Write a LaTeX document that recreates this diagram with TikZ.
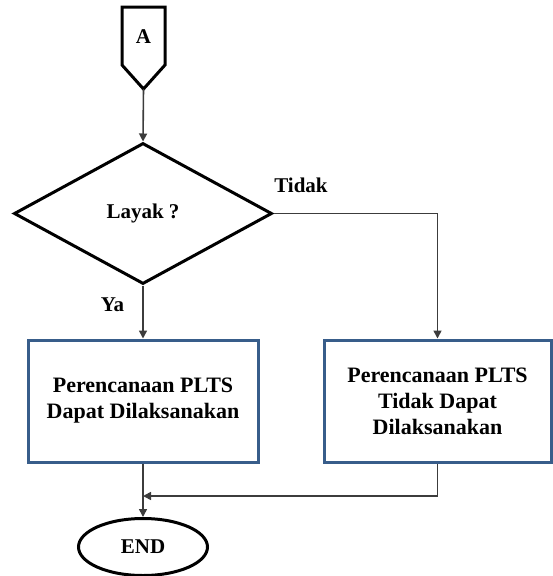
\documentclass[tikz,border=0pt]{standalone}
\usepackage{fontspec}
\setmainfont{Liberation Serif}
\usetikzlibrary{shapes.geometric,arrows.meta}
\definecolor{boxblue}{RGB}{56,93,138}
\definecolor{flowgray}{RGB}{60,60,60}
\tikzset{
    flowline/.style={flowgray, line width=1.6pt, -{Triangle[width=8pt,length=8pt]}},
    decision/.style={diamond, draw, line width=3pt, inner sep=0pt,
        minimum width=258pt, minimum height=141pt},
    procbox/.style={rectangle, draw=boxblue, line width=3pt, align=center,
        font=\fontsize{22}{26}\selectfont\bfseries,
        minimum width=230pt, minimum height=122pt},
    terminal/.style={ellipse, draw, line width=3pt, inner sep=0pt,
        minimum width=129pt, minimum height=57pt}
}
\begin{document}
\begin{tikzpicture}[x=1pt, y=-1pt, font=\fontsize{21}{27}\selectfont\bfseries]
    \useasboundingbox (0,0) rectangle (553,576);
    % Off-page connector
    \coordinate (atl) at (122,7);
    \coordinate (atr) at (165,7);
    \coordinate (abr) at (165,65);
    \coordinate (abl) at (122,65);
    \coordinate (atip) at (143.5,89);
    \draw [line width=3pt, line join=miter] (atl) -- (atr) -- (abr) -- (atip) -- (abl) -- cycle;
    \node (la) at (143.5,37) {A};

    % Shapes
    \node [decision] (layak) at (143,213.5) {Layak ?};
    \node [procbox] (ok) at (143,401) {Perencanaan PLTS\\Dapat Dilaksanakan};
    \node [procbox, minimum width=227pt] (notok) at (437.5,401) {Perencanaan PLTS\\Tidak Dapat\\Dilaksanakan};
    \node [terminal] (end) at (143,547) {END};

    % Connectors
    \coordinate (join) at (143,496);
    \draw [flowline] (atip) -- (layak.north);
    \draw [flowline] (layak.south) -- (ok.north);
    \draw [flowline] (layak.east) -| (notok.north);
    \draw [flowline] (notok.south) |- (join);
    \draw [flowline] (ok.south) -- (end.north);
    \node (ltidak) at (301,185) {Tidak};
    \node (lya) at (112.5,305) {Ya};
\end{tikzpicture}
\end{document}
